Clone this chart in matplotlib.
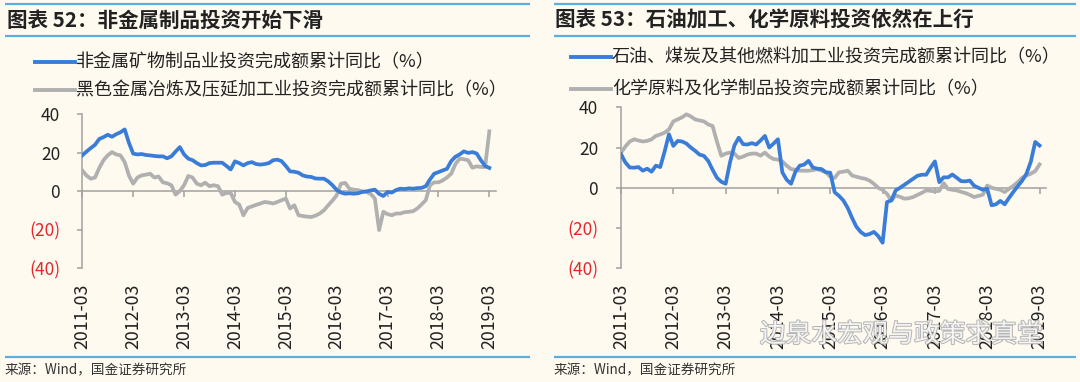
import numpy as np
import matplotlib
matplotlib.use("Agg")
import matplotlib.pyplot as plt
from matplotlib.lines import Line2D
import matplotlib.patheffects as pe

plt.rcParams['font.family'] = ['Noto Sans CJK SC', 'DejaVu Sans']

# monthly index, 0 = 2011-03 ... 96 = 2019-03
tick_labels = ["2011-03", "2012-03", "2013-03", "2014-03", "2015-03",
               "2016-03", "2017-03", "2018-03", "2019-03"]

nonmetal = [18.5, 20.5, 22.3, 24, 27, 28, 29.2, 28.2, 29.5, 30.5, 32, 25,
            19.4, 19, 19.2, 18.7, 18.5, 18.2, 18, 18, 17, 18, 20.5, 22.8,
            19, 16.8, 16, 14.5, 13.3, 13.5, 14.5, 14.7, 14.7, 14.7, 13, 11.2,
            15.4, 14.5, 13.3, 14.5, 15, 14, 13.7, 14, 14.5, 16, 16.3, 15.5,
            13, 10.2, 10, 9.5, 8.1, 7.5, 7.3, 6.5, 6.4, 6.4, 5, 3,
            0.5, -0.8, -1.4, -1.2, -1.4, -1.2, -0.5, -0.2, 0.3, 0.7, -1.5, -2.6,
            -0.5, -0.8, 0.5, 1.2, 1, 1.4, 1.2, 1.5, 1.6, 2.5, 6, 9,
            9.8, 10.7, 11.5, 15.5, 17.8, 19, 20.6, 19.8, 20.2, 19.5, 16, 13, 12]
ferrous = [10.7, 8, 6.4, 7, 12, 16, 18.5, 20.2, 19, 18.5, 15, 8,
           3.8, 7, 8.1, 8.5, 9, 7, 7.5, 4.5, 4, 3, -1.9, 0,
           3, 7.8, 7, 3.8, 3, 4.3, 2.5, 3, 2.5, -1.9, -1, -1,
           -5.7, -7, -12.6, -8.8, -8, -7.2, -6.5, -5.7, -6, -6.5, -5.7, -4.8,
           -3.9, -9.1, -7.4, -12.6, -13, -13.3, -13.5, -12.8, -11.7, -10, -7.4, -5,
           -2.2, 3.8, 4.2, 1.2, 0.7, 0.5, -0.2, -0.5, -1.5, -3.9, -20.3, -10.8,
           -12, -12.6, -11.7, -11.7, -11, -10.8, -10.5, -9.1, -7, -4.8, 3, 4.5,
           4.5, 5.5, 7, 9, 14, 16.8, 16.5, 16, 12.1, 12.8, 12.5, 12.5, 31]

petroleum = [16.7, 12.6, 10.1, 10, 10.3, 8.5, 9.5, 8, 11, 10.3, 18, 26.6,
             20.8, 23.3, 23, 22, 20, 18.4, 16.5, 15.9, 13.4, 9, 5, 3,
             2, 12.6, 21, 24.9, 21.7, 21.5, 22.2, 21.5, 23.5, 25.8, 20, 22,
             24.1, 7.7, 4, 2, 8, 11, 11.5, 13.4, 10.1, 9.5, 9.3, 7.7,
             7.5, -2.2, -4, -6.3, -10, -15, -19.4, -22, -23.5, -23, -21.9, -24,
             -27.3, -7.1, -6.3, -1.3, 0, 1.5, 3, 4.5, 6, 6.5, 6.5, 10,
             13.1, 2.8, 5.2, 5.2, 6.6, 5, 3.3, 3.2, 3.6, 1, 0, -1,
             -0.5, -8.7, -8.2, -6.5, -8.2, -5, -2, 0.8, 3.5, 7, 13, 22.8, 21]
chemical = [17.5, 20.5, 23, 24.1, 23.5, 23, 23.3, 24.1, 25.8, 26.5, 27.4, 29,
            33, 34, 35, 36.5, 35.5, 34, 33.5, 33, 31.5, 30.7, 23, 15.9,
            17, 17.5, 17, 14.8, 15.5, 16.5, 17, 17, 16, 17.5, 15.5, 14.3,
            14, 13.1, 11, 9.3, 9, 8.5, 8.5, 8.5, 8.8, 9.3, 8.5, 7.7,
            5.5, 4.9, 7.7, 8, 8.5, 6.1, 5.5, 4.9, 4.5, 3.6, 2, 0,
            -1, -3, -6.3, -3.8, -4.5, -5.4, -5.2, -4.6, -3.5, -2.5, -1.3, -1.5,
            -1.8, -1.5, 2.3, -0.6, -1, -1.3, -2, -2.6, -3.5, -4.6, -4, -3.4,
            1.1, 0, -0.5, -1, -2.1, -0.5, 1, 2.8, 5, 6.1, 7, 8.3, 11.6]

BG = "#fffaf0"
BLUE = "#3a7dd8"
GRAY = "#b0b0b0"
SEP = "#5aafe0"
AXC = "#a0a0a0"
RED = "#e8242b"

W, H = 1080, 382


def fx(px):
    return px / W


def fy(py):
    return 1 - py / H


fig = plt.figure(figsize=(10.8, 3.82), dpi=100, facecolor=BG)


def hline(x0, x1, y, color=SEP, lw=1.6):
    fig.add_artist(Line2D([fx(x0), fx(x1)], [fy(y), fy(y)], color=color, lw=lw,
                          transform=fig.transFigure, solid_capstyle="butt"))


def panel(x0, x1, title, legend, series, ax_box, leg_y, leg_x, ypad, title_x):
    # separators, title, source
    for yy in (4, 36, 357):
        hline(x0, x1, yy)
    fig.text(fx(title_x), fy(20), title, fontsize=14.8, fontweight="bold",
             color="#222222", va="center", ha="left")
    fig.text(fx(x0), fy(370), "来源：Wind，国金证券研究所", fontsize=9.8,
             color="#333333", va="center", ha="left")

    # legend
    colors = [BLUE, GRAY]
    for k, (lab, col) in enumerate(zip(legend, colors)):
        yy = leg_y[k]
        fig.add_artist(Line2D([fx(leg_x - 41), fx(leg_x - 1)], [fy(yy), fy(yy)],
                              color=col, lw=2.8, transform=fig.transFigure))
        fig.text(fx(leg_x), fy(yy), lab, fontsize=13, color="#222222",
                 va="center", ha="left")

    ax = fig.add_axes(ax_box)
    ax.set_facecolor(BG)
    x = np.arange(len(series[0]))
    ax.plot(x, series[1], color=GRAY, lw=2.7, zorder=3)
    ax.plot(x, series[0], color=BLUE, lw=2.7, zorder=4)
    ax.set_xlim(0, 97.5)
    ax.set_ylim(-40, 40)

    for s in ["top", "right"]:
        ax.spines[s].set_visible(False)
    ax.spines["bottom"].set_position(("data", 0))
    for s in ["left", "bottom"]:
        ax.spines[s].set_color(AXC)
        ax.spines[s].set_linewidth(1.1)

    ticks = np.arange(0, 97, 12)
    ax.set_xticks(ticks)
    ax.set_xticklabels([])
    ax.tick_params(axis="x", direction="out", length=4, width=1.1, color=AXC)
    for t, lab in zip(ticks, tick_labels):
        ax.annotate(lab, xy=(t, 0), xycoords=("data", "axes fraction"),
                    xytext=(0, -11), textcoords="offset points",
                    rotation=90, ha="center", va="top", fontsize=12.8,
                    color="#222222")

    yt = [-40, -20, 0, 20, 40]
    ax.set_yticks(yt)
    ax.set_yticklabels([f"({abs(v)})" if v < 0 else f"{v}" for v in yt])
    ax.tick_params(axis="y", direction="out", length=3.5, width=1.1,
                   color=AXC, pad=ypad, labelsize=12.5)
    for v, lbl in zip(yt, ax.get_yticklabels()):
        lbl.set_color(RED if v < 0 else "#222222")
    return ax


panel(5, 530, "图表 52：非金属制品投资开始下滑",
      ["非金属矿物制品业投资完成额累计同比（%）",
       "黑色金属冶炼及压延加工业投资完成额累计同比（%）"],
      [nonmetal, ferrous],
      [fx(82.3), fy(268), 97.5 * 4.24 / W, (268 - 114) / H],
      leg_y=[62, 90], leg_x=76, ypad=12.5, title_x=7)

panel(554, 1076, "图表 53：石油加工、化学原料投资依然在上行",
      ["石油、煤炭及其他燃料加工业投资完成额累计同比（%）",
       "化学原料及化学制品投资完成额累计同比（%）"],
      [petroleum, chemical],
      [fx(621), fy(268.3), 97.5 * 4.36 / W, (268.3 - 107.3) / H],
      leg_y=[57, 89], leg_x=612, ypad=13, title_x=555)

# watermark over the right chart
fig.text(fx(760), fy(335), "边泉水宏观与政策求真堂", fontsize=18.5,
         color="white", alpha=0.85, va="center", ha="left",
         path_effects=[pe.withStroke(linewidth=1.4, foreground="#a8a8a8")])

fig.savefig("out.png", dpi=100, facecolor=BG)
